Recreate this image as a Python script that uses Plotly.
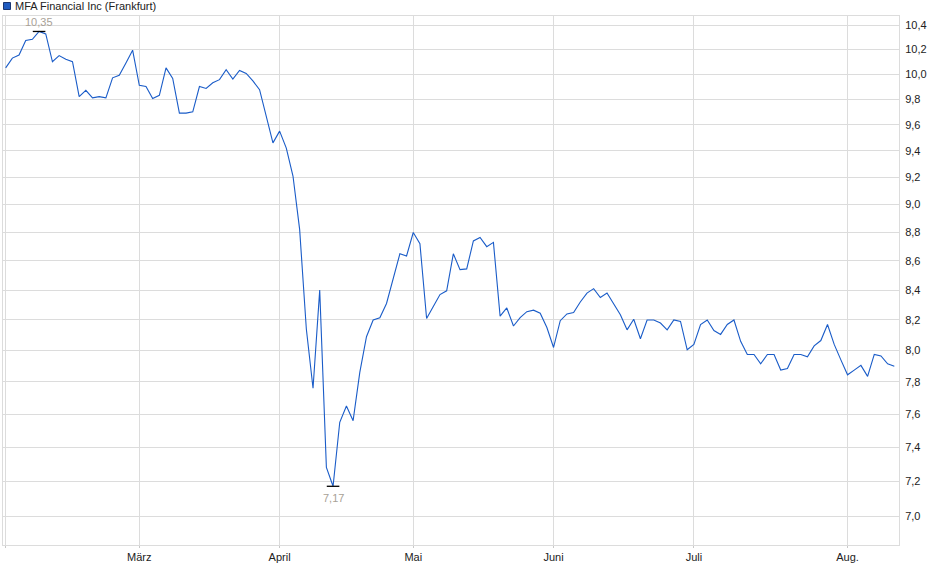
import math
import pandas as pd
import plotly.graph_objects as go

# Handelstage Frankfurt (Feb - Aug 2025), Feiertage ohne Handel
start_date = "2025-02-03"
end_date = "2025-08-12"
holidays = ["2025-04-18", "2025-04-21", "2025-05-01"]

prices = [
    10.05, 10.13, 10.155, 10.275, 10.285, 10.35, 10.33, 10.10, 10.15, 10.12,
    10.10, 9.82, 9.87, 9.81, 9.82, 9.81, 9.97, 9.99, 10.09, 10.195,
    9.91, 9.90, 9.805, 9.83, 10.05, 9.965, 9.69, 9.69, 9.70, 9.90,
    9.885, 9.93, 9.955, 10.035, 9.96, 10.03, 10.005, 9.945, 9.875, 9.66,
    9.46, 9.55, 9.42, 9.21, 8.82, 8.14, 7.76, 8.40, 7.28, 7.17,
    7.55, 7.65, 7.56, 7.86, 8.09, 8.20, 8.215, 8.31, 8.47, 8.65,
    8.635, 8.80, 8.72, 8.21, 8.29, 8.37, 8.395, 8.65, 8.54, 8.545,
    8.74, 8.765, 8.70, 8.73, 8.225, 8.28, 8.16, 8.215, 8.255, 8.265,
    8.245, 8.15, 8.02, 8.195, 8.24, 8.25, 8.32, 8.38, 8.41, 8.35,
    8.38, 8.31, 8.235, 8.135, 8.205, 8.077, 8.20, 8.20, 8.18, 8.135,
    8.20, 8.19, 8.005, 8.04, 8.17, 8.20, 8.13, 8.105, 8.17, 8.20,
    8.06, 7.975, 7.975, 7.915, 7.975, 7.975, 7.875, 7.885, 7.975, 7.975,
    7.96, 8.03, 8.065, 8.17, 8.04, 7.94, 7.845, 7.875, 7.905, 7.835,
    7.975, 7.965, 7.915, 7.90,
]

month_ticks = ["2025-02-03", "2025-03-03", "2025-04-01", "2025-05-02",
               "2025-06-02", "2025-07-01", "2025-08-01"]
month_labels = ["", "März", "April", "Mai", "Juni", "Juli", "Aug."]

y_ticks = [7.0, 7.2, 7.4, 7.6, 7.8, 8.0, 8.2, 8.4, 8.6, 8.8,
           9.0, 9.2, 9.4, 9.6, 9.8, 10.0, 10.2, 10.4]
y_labels = ["7,0", "7,2", "7,4", "7,6", "7,8", "8,0", "8,2", "8,4", "8,6", "8,8",
            "9,0", "9,2", "9,4", "9,6", "9,8", "10,0", "10,2", "10,4"]

name = "MFA Financial Inc (Frankfurt)"
line_color = "#1a5cc8"
grid_color = "#dcdcdc"
label_color = "#a8a196"
font_family = "Arial, Liberation Sans, sans-serif"

days = pd.bdate_range(start_date, end_date)
days = days[~days.isin(pd.to_datetime(holidays))]
dates = [d.strftime("%Y-%m-%d") for d in days]

i_max = prices.index(max(prices))
i_min = prices.index(min(prices))

fig = go.Figure()

fig.add_trace(go.Scatter(
    x=dates, y=prices, mode="lines", name=name,
    line=dict(color=line_color, width=1.1),
    showlegend=False,
))

# Hoch / Tief Markierung
fig.add_trace(go.Scatter(
    x=[dates[i_max], dates[i_min]],
    y=[prices[i_max], prices[i_min]],
    mode="markers",
    marker=dict(symbol="line-ew", size=9, line=dict(color="black", width=1.3)),
    showlegend=False, hoverinfo="skip",
))
for i, shift in [(i_max, 9), (i_min, -12)]:
    fig.add_annotation(
        x=dates[i], y=math.log10(prices[i]), xref="x", yref="y",
        text=f"{prices[i]:.2f}".replace(".", ","), showarrow=False,
        yshift=shift, font=dict(family=font_family, size=11, color=label_color),
    )

# Legende oben links
fig.add_shape(
    type="rect", xref="paper", yref="paper",
    xsizemode="pixel", ysizemode="pixel",
    xanchor=0, yanchor=1,
    x0=0.5, x1=7.5, y0=6.5, y1=13.5,
    fillcolor="#1f5bc0", line=dict(color="#1a3570", width=1),
)
fig.add_annotation(
    text=name, xref="paper", yref="paper", x=0, y=1,
    xanchor="left", yanchor="middle", xshift=10, yshift=10,
    showarrow=False, font=dict(family=font_family, size=11, color="#222"),
)

fig.update_xaxes(
    type="category",
    range=[-0.4, 133.7],
    tickmode="array", tickvals=month_ticks, ticktext=month_labels,
    showgrid=True, gridcolor=grid_color, gridwidth=1,
    showline=True, linecolor=grid_color, linewidth=1, mirror=True,
    ticks="outside", ticklen=2, tickcolor="#c8c8c8",
    tickfont=dict(family=font_family, size=11, color="#222"),
    zeroline=False,
)
fig.update_yaxes(
    type="log",
    range=[0.83494, 1.02036],
    side="right",
    tickmode="array", tickvals=y_ticks, ticktext=y_labels,
    showgrid=True, gridcolor=grid_color, gridwidth=1,
    showline=True, linecolor=grid_color, linewidth=1, mirror=True,
    ticks="", ticklabelstandoff=3,
    tickfont=dict(family=font_family, size=11, color="#222"),
    zeroline=False,
)

fig.update_layout(
    width=940, height=579,
    margin=dict(l=3, r=41, t=16, b=34),
    paper_bgcolor="white", plot_bgcolor="white",
    separators=",.",
    showlegend=False,
)

# Seitenrand entfernen, damit der Chart bei (0,0) beginnt
fig.write_html("out.html", config={"displayModeBar": False},
               post_script="document.body.style.margin='0';")
